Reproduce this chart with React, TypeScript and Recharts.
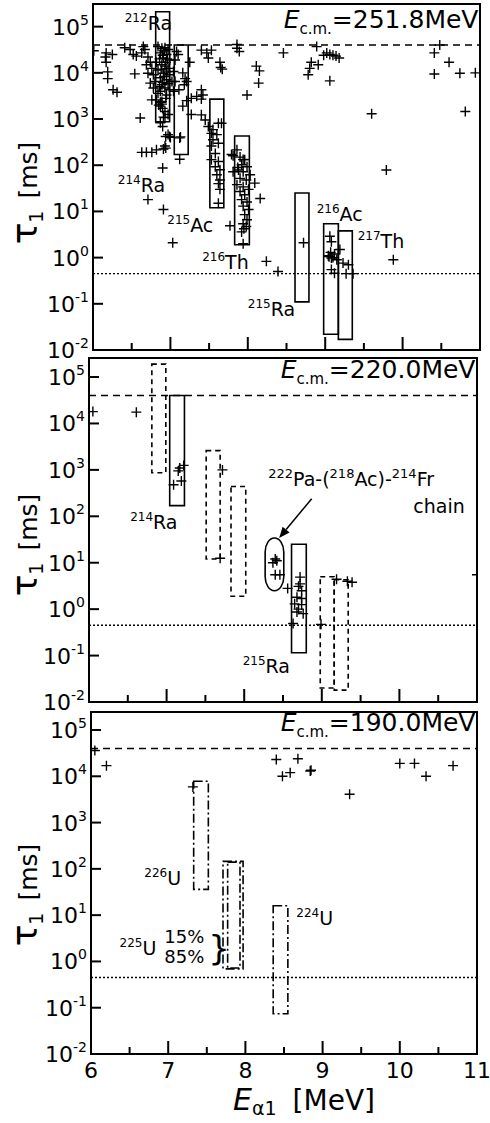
import React from 'react';
import {
  ScatterChart,
  Scatter,
  XAxis,
  YAxis,
  ReferenceArea,
  ReferenceLine,
  ReferenceDot,
  Label,
} from 'recharts';

const FONT = '"DejaVu Sans", Verdana, sans-serif';

// E_alpha1 [MeV], tau1 [ms]
const panel1Points: [number, number][] = [
  [6.01, 30000], [6.16, 22000], [6.17, 27000], [6.25, 25000], [6.17, 17000], [6.19, 10500],
  [6.19, 7500], [6.26, 4300], [6.31, 3800], [6.41, 35000], [6.48, 32000], [6.52, 25000],
  [6.54, 9500], [6.56, 23000], [6.61, 1050], [6.65, 37000], [6.63, 27000], [6.67, 32000],
  [6.71, 22000], [6.69, 15000], [6.74, 17000], [6.76, 12500], [6.71, 9800], [6.78, 9100],
  [6.74, 6000], [6.78, 4700], [6.80, 6500], [6.76, 2600], [6.82, 2600], [6.85, 2000],
  [6.87, 2300], [6.89, 2100], [6.87, 4000],
  [6.84, 37000], [6.89, 34000], [6.93, 35000], [6.97, 32000], [6.87, 27000], [6.95, 25000],
  [6.91, 21000], [6.82, 17000], [6.99, 19000], [6.89, 15000], [6.93, 14000], [6.97, 12500],
  [6.84, 11500], [6.91, 9800], [6.99, 9100], [6.87, 7800], [6.95, 7100], [7.02, 6500],
  [6.89, 5500], [6.93, 4700], [6.99, 4300], [6.84, 3600], [6.95, 3300], [6.89, 2400],
  [6.87, 1900], [6.93, 1450], [6.91, 1100], [6.97, 1250], [6.92, 30000], [6.90, 24000],
  [6.96, 20000], [6.86, 20000], [6.94, 17000], [6.88, 12000], [6.95, 10500], [6.92, 8300],
  [6.90, 6200], [6.97, 5800], [6.86, 5000], [6.94, 2800], [6.90, 1700],
  [6.90, 690], [6.87, 830], [6.93, 1070], [6.94, 420], [6.99, 420], [7.00, 400], [6.93, 260],
  [6.91, 225], [6.94, 235], [6.63, 190], [6.69, 190], [6.76, 190], [6.82, 215], [6.90, 87],
  [6.97, 460],
  [7.08, 29000], [7.06, 19000], [7.10, 25000], [7.04, 10700], [7.06, 6500], [7.04, 4000],
  [7.11, 4300], [7.16, 10000], [7.19, 7500], [7.21, 6500], [7.18, 5500], [7.25, 17000],
  [7.21, 2500], [7.27, 2800], [7.34, 3100], [7.27, 1250], [7.16, 1900], [7.12, 390],
  [7.13, 410], [7.12, 135],
  [7.40, 31000], [7.47, 27000], [7.49, 21000], [7.53, 31000], [7.64, 17000], [7.65, 13000],
  [7.67, 12000], [7.40, 4300], [7.42, 3300], [7.40, 2700], [7.40, 1230], [7.45, 950],
  [7.49, 690], [7.55, 590], [7.62, 810], [7.66, 810], [7.53, 490], [7.60, 460], [7.55, 355],
  [7.62, 300], [7.53, 260], [7.58, 180], [7.53, 132], [7.62, 120], [7.58, 93], [7.64, 80],
  [7.60, 62], [7.64, 48], [7.62, 40], [7.64, 30], [7.62, 15], [7.79, 170],
  [7.86, 41000], [7.86, 34000], [7.89, 29000], [8.11, 14000], [8.15, 11000], [8.14, 6000],
  [7.99, 3300], [7.86, 215], [7.81, 160], [7.94, 133], [7.87, 89],
  [7.90, 150], [7.96, 132], [7.92, 102], [7.99, 93], [7.88, 79], [7.94, 72], [7.81, 72],
  [8.03, 62], [7.90, 52], [7.98, 48], [8.09, 41], [7.86, 38], [7.94, 34], [8.01, 30],
  [7.90, 27], [7.96, 23], [7.92, 18], [7.99, 16], [8.16, 19], [7.94, 13], [8.01, 11],
  [7.96, 8.5], [7.99, 6.6], [7.94, 5.4], [7.98, 4.7], [7.77, 4.9], [7.92, 3.6], [7.95, 4.2],
  [7.94, 2.0],
  [8.46, 27000], [8.89, 37000], [8.82, 17000], [8.91, 15000], [8.80, 12500], [8.78, 9100],
  [8.98, 24000], [9.02, 27000], [9.06, 25000], [9.10, 24000], [9.14, 23000], [9.18, 21000],
  [9.06, 6700], [9.60, 1300], [10.41, 27000], [10.48, 40000], [10.60, 17000], [10.41, 9400],
  [10.74, 9800], [10.94, 10000], [10.81, 1450], [9.79, 79],
  [6.71, 18], [6.91, 11], [7.03, 2.1], [8.24, 0.83], [8.39, 0.5], [8.72, 2.1], [9.88, 0.9],
  [9.06, 2.9], [9.08, 2.2], [9.19, 1.5], [9.04, 1.1], [9.08, 0.98], [9.10, 1.0], [9.05, 1.05],
  [9.15, 0.9], [9.23, 0.76], [9.30, 0.7], [9.08, 0.55], [9.12, 0.46], [9.27, 0.45],
  [9.36, 0.45], [9.07, 1.3], [9.12, 1.2],
];

const panel2Points: [number, number][] = [
  [6.05, 18000], [6.61, 17500], [7.09, 480], [7.15, 950], [7.19, 575], [7.22, 1250],
  [7.17, 1100], [7.72, 1000], [7.69, 12.5], [8.40, 12], [8.37, 10], [8.42, 11], [8.40, 5.5],
  [8.46, 5.5], [8.56, 2.8], [8.63, 0.49], [8.72, 4.9], [8.72, 3.5], [8.70, 3.1], [8.74, 2.5],
  [8.68, 1.8], [8.74, 1.7], [8.65, 1.3], [8.74, 1.25], [8.70, 1.0], [8.68, 0.87], [8.76, 0.8],
  [8.99, 0.47], [9.19, 4.4], [9.39, 3.8], [9.33, 4.0], [11.0, 5.5],
];

const panel3Points: [number, number][] = [
  [6.05, 36000], [6.20, 17000], [7.32, 5900], [8.40, 23000], [8.48, 10000], [8.58, 12000],
  [8.68, 24000], [8.84, 13000], [8.85, 13500], [9.35, 4100], [10.0, 19000], [10.19, 19000],
  [10.34, 10000], [10.69, 17000],
];

// search windows: [E from, E to, tau from, tau to]
const panel1Boxes: [number, number, number, number][] = [
  [6.81, 6.99, 870, 210000], [7.05, 7.23, 170, 40000], [7.51, 7.69, 12, 2700],
  [7.83, 8.02, 1.9, 430], [8.61, 8.79, 0.11, 25], [8.98, 9.17, 0.022, 5.4],
  [9.17, 9.35, 0.017, 3.8],
];
const panel2SolidBoxes: [number, number, number, number][] = [
  [7.04, 7.23, 170, 40000], [8.61, 8.80, 0.115, 25],
];
const panel2DashedBoxes: [number, number, number, number][] = [
  [6.81, 6.99, 870, 190000], [7.51, 7.69, 12, 2600], [7.83, 8.02, 1.9, 440],
  [8.98, 9.16, 0.02, 5.0], [9.16, 9.34, 0.018, 4.3],
];
const panel3Boxes: [number, number, number, number][] = [
  [7.33, 7.52, 36, 7800], [7.71, 7.97, 0.69, 145], [7.77, 7.93, 0.72, 140],
  [8.36, 8.55, 0.074, 16],
];
const chainBox: [number, number, number, number] = [8.27, 8.51, 2.5, 34];

const xTicks = [6, 6.5, 7, 7.5, 8, 8.5, 9, 9.5, 10, 10.5, 11];
const yTicks = [0.01, 0.1, 1, 10, 100, 1000, 10000, 100000];
const ENERGIES = ['251.8', '220.0', '190.0'];
const UPPER_LIMIT = 40000;
const LOWER_LIMIT = 0.45;

type Note = { e: number; tau: number; mass: string; sym: string };
const panel1Notes: Note[] = [
  { e: 6.41, tau: 85000, mass: '212', sym: 'Ra' },
  { e: 6.32, tau: 26, mass: '214', sym: 'Ra' },
  { e: 6.96, tau: 3.5, mass: '215', sym: 'Ac' },
  { e: 7.41, tau: 0.56, mass: '216', sym: 'Th' },
  { e: 8.0, tau: 0.055, mass: '215', sym: 'Ra' },
  { e: 8.89, tau: 6.3, mass: '216', sym: 'Ac' },
  { e: 9.42, tau: 1.6, mass: '217', sym: 'Th' },
];
const panel2Notes: Note[] = [
  { e: 6.53, tau: 52, mass: '214', sym: 'Ra' },
  { e: 7.98, tau: 0.043, mass: '215', sym: 'Ra' },
];
const panel3Notes: Note[] = [
  { e: 6.69, tau: 45, mass: '226', sym: 'U' },
  { e: 8.66, tau: 6.0, mass: '224', sym: 'U' },
  { e: 6.37, tau: 1.35, mass: '225', sym: 'U' },
];

const toPts = (a: [number, number][]) => a.map(([e, tau]) => ({ e, tau }));

const Plus = (props: any) => {
  const { cx, cy } = props;
  if (cx == null || cy == null) return null;
  return (
    <path
      d={`M${cx - 5},${cy}H${cx + 5}M${cx},${cy - 5}V${cy + 5}`}
      stroke="#000"
      strokeWidth={1.4}
      fill="none"
    />
  );
};

const YTick = (props: any) => {
  const { x, y, payload } = props;
  const exp = Math.round(Math.log10(payload.value));
  return (
    <g>
      <line x1={x} y1={y} x2={x + 10} y2={y} stroke="#000" strokeWidth={2} />
      <text x={x - 4} y={y + 8} textAnchor="end" fontFamily={FONT} fontSize={22} fill="#000">
        10<tspan dy={-10} fontSize={14}>{exp < 0 ? `-${-exp}` : `${exp}`}</tspan>
      </text>
    </g>
  );
};

const makeXTick = (showLabel: boolean) => (props: any) => {
  const { x, y, payload } = props;
  const major = Number.isInteger(payload.value);
  return (
    <g>
      <line x1={x} y1={y} x2={x} y2={y - (major ? 13 : 7)} stroke="#000" strokeWidth={2} />
      {showLabel && major && (
        <text x={x} y={y + 24} textAnchor="middle" fontFamily={FONT} fontSize={22} fill="#000">
          {payload.value}
        </text>
      )}
    </g>
  );
};

const noteShape = (n: Note) => (p: any) => (
  <text x={p.cx} y={p.cy} fontFamily={FONT} fontSize={19} fill="#000">
    <tspan fontSize={12} dy={-8}>{n.mass}</tspan>
    <tspan dy={8}>{n.sym}</tspan>
  </text>
);

const titleShape = (energy: string) => (p: any) => (
  <text x={p.cx} y={p.cy} textAnchor="end" fontFamily={FONT} fontSize={25} fill="#000">
    <tspan fontStyle="italic">E</tspan>
    <tspan fontSize={15} dy={6}>c.m.</tspan>
    <tspan dy={-6}>={energy}MeV</tspan>
  </text>
);

const plainText = (s: string, size: number) => (p: any) => (
  <text x={p.cx} y={p.cy} fontFamily={FONT} fontSize={size} fill="#000">
    {s}
  </text>
);

const tauLabel = (dy: number) => (props: any) => {
  const vb = props.viewBox;
  const cy = vb.y + vb.height / 2 + dy;
  return (
    <text
      transform={`translate(37,${cy}) rotate(-90)`}
      textAnchor="middle"
      fontFamily={FONT}
      fontSize={25}
      fill="#000"
    >
      <tspan fontSize={36}>τ</tspan>
      <tspan fontSize={19} dy={6}>1</tspan>
      <tspan dy={-6} dx={12}>[ms]</tspan>
    </text>
  );
};

const energyLabel = (props: any) => {
  const vb = props.viewBox;
  return (
    <text x={vb.x + 142} y={vb.y + 56} fontFamily={FONT} fontSize={28} fill="#000">
      <tspan fontStyle="italic" fontSize={30}>E</tspan>
      <tspan fontSize={19} dy={5}>α1</tspan>
      <tspan dy={-5} dx={16}>[MeV]</tspan>
    </text>
  );
};

const arrowShape = (p: any) => {
  const { x1, y1, x2, y2 } = p;
  if ([x1, y1, x2, y2].some((v) => v == null)) return null;
  const a = Math.atan2(y2 - y1, x2 - x1);
  const L = 11;
  const W = 4.5;
  const bx = x2 - L * Math.cos(a);
  const by = y2 - L * Math.sin(a);
  const nx = -Math.sin(a) * W;
  const ny = Math.cos(a) * W;
  return (
    <g>
      <line x1={x1} y1={y1} x2={bx} y2={by} stroke="#000" strokeWidth={1.5} />
      <polygon points={`${x2},${y2} ${bx + nx},${by + ny} ${bx - nx},${by - ny}`} fill="#000" />
    </g>
  );
};

const boxStyle = { fill: 'none', stroke: '#000', strokeWidth: 1.6, fillOpacity: 0 };

type PanelProps = {
  top: number;
  height: number;
  margin: { top: number; right: number; bottom: number; left: number };
  yWidth: number;
  xHeight: number;
  yMax: number;
  points: [number, number][];
  energy: string;
  showX: boolean;
  tauShift: number;
  children?: React.ReactNode;
};

const Panel = ({ top, height, margin, yWidth, xHeight, yMax, points, energy, showX, tauShift, children }: PanelProps) => (
  <div style={{ position: 'absolute', top, left: 0 }}>
    <ScatterChart width={490} height={height} margin={margin}>
      <XAxis
        type="number"
        dataKey="e"
        domain={[6, 11]}
        ticks={xTicks}
        interval={0}
        allowDataOverflow
        axisLine={false}
        tickLine={false}
        tickSize={0}
        tickMargin={0}
        height={xHeight}
        tick={makeXTick(showX)}
      >
        {showX && <Label content={energyLabel} />}
      </XAxis>
      <YAxis
        type="number"
        dataKey="tau"
        scale="log"
        domain={[0.01, yMax]}
        ticks={yTicks}
        interval={0}
        allowDataOverflow
        axisLine={false}
        tickLine={false}
        tickSize={0}
        tickMargin={0}
        width={yWidth}
        tick={YTick}
      >
        <Label content={tauLabel(tauShift)} />
      </YAxis>
      <ReferenceArea x1={6} x2={11} y1={0.01} y2={yMax} fill="none" fillOpacity={0} stroke="#000" strokeWidth={2} />
      <ReferenceLine y={UPPER_LIMIT} stroke="#000" strokeWidth={1.6} strokeDasharray="7 5" />
      <ReferenceLine y={LOWER_LIMIT} stroke="#000" strokeWidth={1.3} strokeDasharray="2 2" />
      {children}
      <ReferenceDot x={10.98} y={yMax > 300000 ? 93000 : 96000} r={0} shape={titleShape(energy)} />
      <Scatter data={toPts(points)} dataKey="tau" shape={Plus} isAnimationActive={false} />
    </ScatterChart>
  </div>
);

const renderBoxes = (boxes: [number, number, number, number][], dash?: string) =>
  boxes.map(([x1, x2, y1, y2], i) => (
    <ReferenceArea key={`${dash}-${i}`} x1={x1} x2={x2} y1={y1} y2={y2} {...boxStyle} strokeDasharray={dash} />
  ));

const renderNotes = (notes: Note[]) =>
  notes.map((n, i) => <ReferenceDot key={`n${i}`} x={n.e} y={n.tau} r={0} shape={noteShape(n)} />);

export default function App() {
  return (
    <div style={{ position: 'absolute', top: 0, left: 0, width: 490, height: 1123, background: '#fff', fontFamily: FONT }}>
      <Panel
        top={0}
        height={372}
        margin={{ top: 4, right: 10, bottom: 20, left: 0 }}
        yWidth={93}
        xHeight={2}
        yMax={309000}
        points={panel1Points}
        energy={ENERGIES[0]}
        showX={false}
        tauShift={16}
      >
        {renderBoxes(panel1Boxes)}
        {renderNotes(panel1Notes)}
      </Panel>
      <Panel
        top={340}
        height={380}
        margin={{ top: 18, right: 13, bottom: 16, left: 0 }}
        yWidth={89}
        xHeight={2}
        yMax={257000}
        points={panel2Points}
        energy={ENERGIES[1]}
        showX={false}
        tauShift={15}
      >
        {renderBoxes(panel2SolidBoxes)}
        {renderBoxes(panel2DashedBoxes, '5 4')}
        <ReferenceArea
          x1={chainBox[0]}
          x2={chainBox[1]}
          y1={chainBox[2]}
          y2={chainBox[3]}
          shape={(p: any) => (
            <rect x={p.x} y={p.y} width={p.width} height={p.height} rx={10} ry={14} fill="none" stroke="#000" strokeWidth={1.6} />
          )}
        />
        <ReferenceLine segment={[{ x: 8.87, y: 240 }, { x: 8.45, y: 34 }]} shape={arrowShape} />
        <ReferenceDot
          x={8.31}
          y={460}
          r={0}
          shape={(p: any) => (
            <text x={p.cx} y={p.cy} fontFamily={FONT} fontSize={19} fill="#000">
              <tspan fontSize={13} dy={-8}>222</tspan>
              <tspan dy={8}>Pa-(</tspan>
              <tspan fontSize={13} dy={-8}>218</tspan>
              <tspan dy={8}>Ac)-</tspan>
              <tspan fontSize={13} dy={-8}>214</tspan>
              <tspan dy={8}>Fr</tspan>
            </text>
          )}
        />
        <ReferenceDot x={10.18} y={115} r={0} shape={plainText('chain', 19)} />
        {renderNotes(panel2Notes)}
      </Panel>
      <Panel
        top={695}
        height={428}
        margin={{ top: 17, right: 13, bottom: 9, left: 0 }}
        yWidth={91}
        xHeight={60}
        yMax={245000}
        points={panel3Points}
        energy={ENERGIES[2]}
        showX={true}
        tauShift={12}
      >
        {renderBoxes(panel3Boxes, '9 3 2 3')}
        {renderNotes(panel3Notes)}
        <ReferenceDot x={6.95} y={2.5} r={0} shape={plainText('15%', 18)} />
        <ReferenceDot x={6.95} y={0.91} r={0} shape={plainText('85%', 18)} />
        <ReferenceDot x={7.52} y={1.05} r={0} shape={plainText('}', 34)} />
      </Panel>
    </div>
  );
}
